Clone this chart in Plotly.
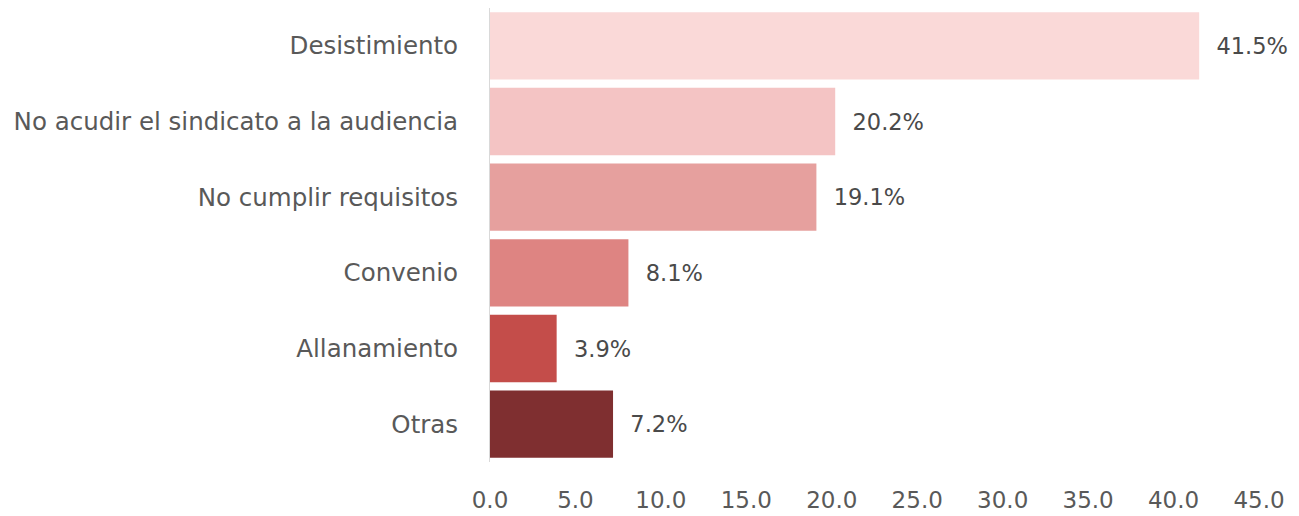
import plotly.graph_objects as go

categories = ["Desistimiento", "No acudir el sindicato a la audiencia", "No cumplir requisitos",
              "Convenio", "Allanamiento", "Otras"]
values = [41.5, 20.2, 19.1, 8.1, 3.9, 7.2]
colors = ["#FAD9D8", "#F4C4C4", "#E6A09E", "#DE8482", "#C44D4A", "#7F2F30"]
tick_vals = [0, 5, 10, 15, 20, 25, 30, 35, 40, 45]
tick_text = ["0.0", "5.0", "10.0", "15.0", "20.0", "25.0", "30.0", "35.0", "40.0", "45.0"]

FONT = "DejaVu Sans, sans-serif"

fig = go.Figure(go.Bar(
    y=categories,
    x=values,
    orientation="h",
    marker=dict(color=colors, line=dict(width=0)),
    text=["  " + f"{v:.1f}%" for v in values],
    textposition="outside",
    textfont=dict(size=22.5, color="#4a4a4a", family=FONT),
    cliponaxis=False,
))

fig.update_layout(
    width=1299, height=516,
    margin=dict(l=490, r=40, t=8, b=54, autoexpand=False),
    plot_bgcolor="white", paper_bgcolor="white",
    bargap=0.11,
    showlegend=False,
    font=dict(family=FONT, color="#595959", size=22),
)
fig.update_xaxes(
    range=[0, 45], tickvals=tick_vals, ticktext=tick_text,
    showgrid=False, zeroline=False, showline=False, automargin=False,
    ticklabelstandoff=22, tickfont=dict(size=23, color="#595959"),
)
fig.update_yaxes(
    categoryorder="array", categoryarray=categories[::-1],
    showgrid=False, zeroline=False, showline=True, linecolor="#d9d9d9", linewidth=1,
    automargin=False,
    ticks="", ticklabelstandoff=26, tickfont=dict(size=24.5, color="#595959"),
)

fig.write_html("out.html", config={"displayModeBar": False},
               post_script="document.body.style.margin='0';")
